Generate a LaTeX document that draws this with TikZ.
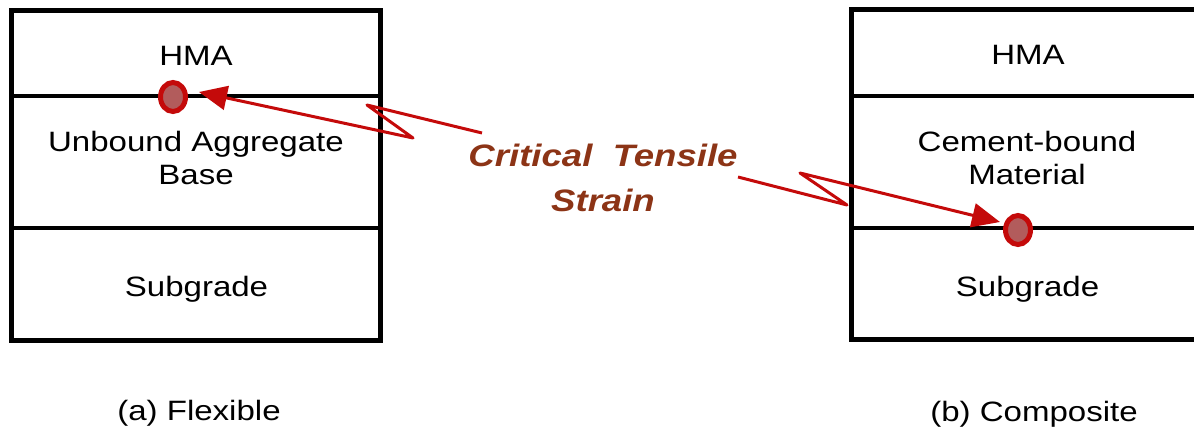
\documentclass[tikz,border=0pt]{standalone}
\usepackage{fontspec}
\setmainfont{Liberation Sans}[FakeStretch=1.18]
\usetikzlibrary{arrows.meta,shapes.geometric}
\definecolor{strainred}{RGB}{196,10,10}
\definecolor{dotfill}{RGB}{178,92,92}
\definecolor{labelbrown}{RGB}{140,52,22}
\begin{document}
\begin{tikzpicture}[x=1pt,y=-1pt,
  boxline/.style={line width=5pt, line join=miter},
  layerline/.style={line width=4pt},
  layertext/.style={font=\fontsize{28}{33}\selectfont, align=center, inner sep=0pt},
  captext/.style={font=\fontsize{28}{33}\selectfont, inner sep=0pt, anchor=base},
  straintext/.style={font=\fontsize{31}{45}\selectfont\bfseries\itshape, text=labelbrown, align=center, inner sep=0pt},
  dot/.style={ellipse, draw=strainred, fill=dotfill, line width=5pt, minimum width=25pt, minimum height=29pt, inner sep=0pt},
  bolt/.style={draw=strainred, line width=3pt, line join=round, -{Triangle[length=28pt,width=24pt]}},
]
\useasboundingbox (0,0) rectangle (1194,430);
% left pavement (flexible)
\draw[boxline] (11.5,10.5) rectangle (380,340);
\draw[layerline] (11.5,96) -- (380,96);
\draw[layerline] (11.5,228) -- (380,228);
% right pavement (composite)
\draw[boxline] (851.5,10) rectangle (1196,339);
\draw[layerline] (851.5,96) -- (1196,96);
\draw[layerline] (851.5,228) -- (1196,228);
% layer labels
\node[layertext, anchor=base] (hmaA) at (196,66) {HMA};
\node[layertext] (baseA) at (196,158.3) {Unbound Aggregate\\Base};
\node[layertext, anchor=base] (subA) at (196.5,297) {Subgrade};
\node[layertext, anchor=base] (hmaB) at (1028,65) {HMA};
\node[layertext] (cemB) at (1027,158.3) {Cement-bound\\Material};
\node[layertext, anchor=base] (subB) at (1027.5,297) {Subgrade};
% captions
\node[captext] (capA) at (199,420) {(a) Flexible};
\node[captext] (capB) at (1034,421) {(b) Composite};
% central label
\node[straintext] (cts) at (603,178) {Critical\ \ Tensile\\Strain};
% bolt connectors
\coordinate (a0) at (482,133);
\coordinate (a1) at (367,105);
\coordinate (a2) at (413,138);
\coordinate (tipA) at (199,92);
\coordinate (b0) at (738,177);
\coordinate (b1) at (847,205);
\coordinate (b2) at (800,173);
\coordinate (tipB) at (1000,222);
\draw[bolt] (a0) -- (a1) -- (a2) -- (tipA);
\draw[bolt] (b0) -- (b1) -- (b2) -- (tipB);
% strain points
\node[dot] (dotA) at (173,97) {};
\node[dot] (dotB) at (1018,230) {};
\end{tikzpicture}
\end{document}
